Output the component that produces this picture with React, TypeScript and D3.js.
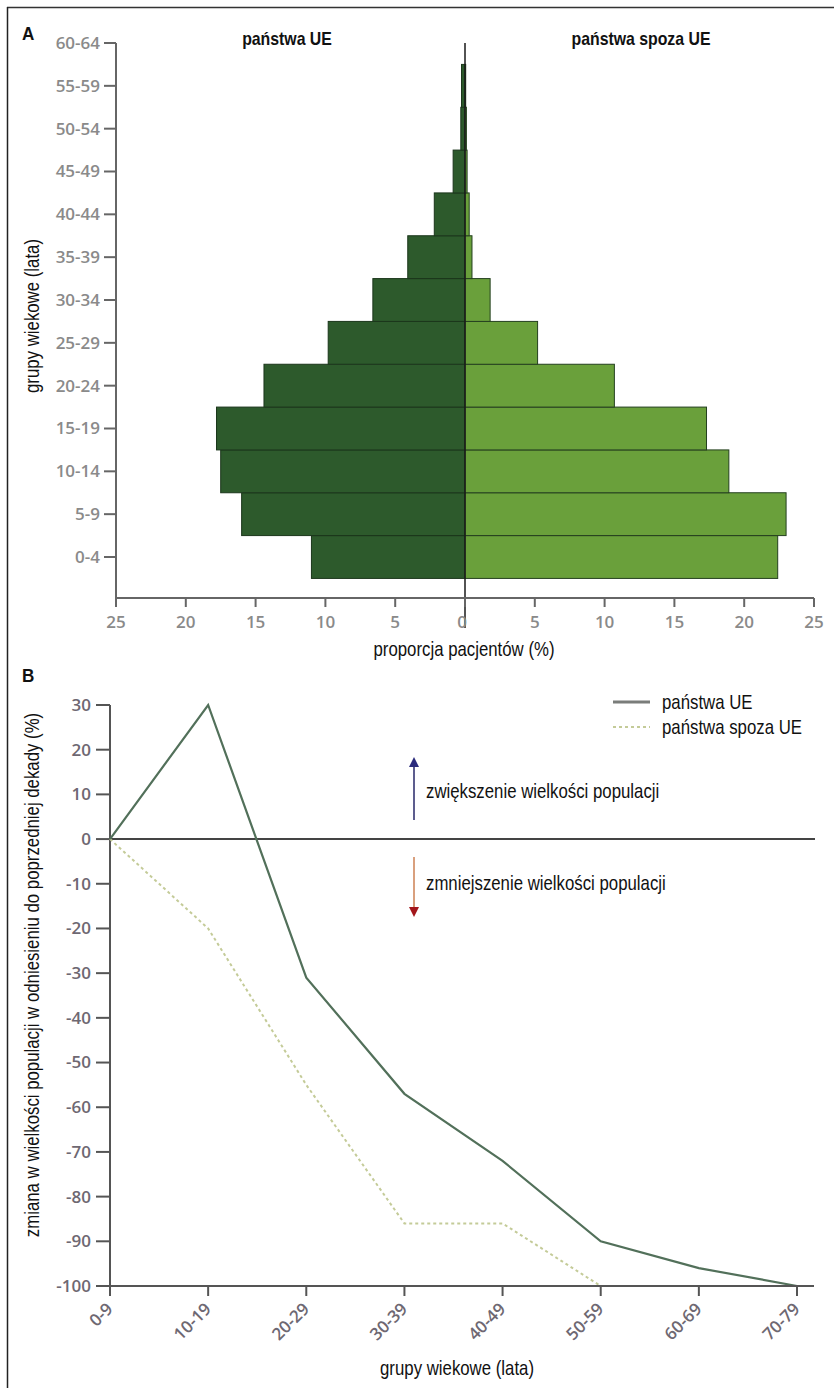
import React from 'react';
import * as d3 from 'd3';

// panel A: share of patients by 5-year age group (%)
const ageGroupsA = ['0-4', '5-9', '10-14', '15-19', '20-24', '25-29', '30-34', '35-39', '40-44', '45-49', '50-54', '55-59', '60-64'];
const euShare = [11.0, 16.0, 17.5, 17.8, 14.4, 9.8, 6.6, 4.1, 2.2, 0.85, 0.3, 0.25, 0];
const nonEuShare = [22.4, 23.0, 18.9, 17.3, 10.7, 5.2, 1.8, 0.5, 0.3, 0.15, 0.1, 0.05, 0];
const shareTicks = [-25, -20, -15, -10, -5, 0, 5, 10, 15, 20, 25];

// panel B: change in population size vs previous decade (%)
const ageGroupsB = ['0-9', '10-19', '20-29', '30-39', '40-49', '50-59', '60-69', '70-79'];
const euChange = [0, 30, -31, -57, -72, -90, -96, -100];
const nonEuChange = [0, -20, -55, -86, -86, -100, -100, -100];
const changeTicks = [30, 20, 10, 0, -10, -20, -30, -40, -50, -60, -70, -80, -90, -100];

const SANS = "'Liberation Sans', Arial, sans-serif";
const TICKFONT = "'Open Sans', 'DejaVu Sans', sans-serif";
const NARROW = 0.84;

const Label = ({ x, y, size = 20, weight = 'normal', anchor = 'start', rotate = 0, sx = NARROW, children }: any) => (
  <text
    transform={`translate(${x},${y}) rotate(${rotate}) scale(${sx},1)`}
    fontFamily={SANS}
    fontSize={size}
    fontWeight={weight}
    textAnchor={anchor}
    fill="#111"
  >
    {children}
  </text>
);

const App = () => {
  // ---- panel A scales
  const xA = d3.scaleLinear().domain([-25, 25]).range([116, 814]);
  const yA = d3.scalePoint<string>().domain(ageGroupsA).range([557, 43]);
  const bandH = yA.step();
  const axisAY = 598;

  // ---- panel B scales
  const xB = d3.scalePoint<string>().domain(ageGroupsB).range([110, 797]);
  const yB = d3.scaleLinear().domain([-100, 30]).range([1286, 705]);

  const line = d3
    .line<number>()
    .x((_, i) => xB(ageGroupsB[i]) as number)
    .y((d) => yB(d));

  return (
    <svg width={834} height={1388} style={{ position: 'absolute', left: 0, top: 0, background: '#fff' }}>
      {/* frame */}
      <line x1={7} x2={834} y1={7.5} y2={7.5} stroke="#333" strokeWidth={1.5} />
      <line x1={7.5} x2={7.5} y1={7} y2={1388} stroke="#222" strokeWidth={1.5} />

      {/* ================= Panel A ================= */}
      <Label x={22} y={40} size={19} weight="bold" sx={0.9}>A</Label>
      <Label x={287} y={45} size={18} weight="bold" anchor="middle" sx={0.88}>państwa UE</Label>
      <Label x={641} y={45} size={18} weight="bold" anchor="middle" sx={0.88}>państwa spoza UE</Label>

      {/* bars */}
      {ageGroupsA.map((g, i) => {
        const cy = yA(g) as number;
        return (
          <g key={g}>
            {euShare[i] > 0 && (
              <rect
                x={xA(-euShare[i])}
                y={cy - bandH / 2}
                width={xA(0) - xA(-euShare[i])}
                height={bandH}
                fill="#2d5a2c"
                stroke="#1b361b"
                strokeWidth={1}
              />
            )}
            {nonEuShare[i] > 0 && (
              <rect
                x={xA(0)}
                y={cy - bandH / 2}
                width={xA(nonEuShare[i]) - xA(0)}
                height={bandH}
                fill="#6aa03b"
                stroke="#24401f"
                strokeWidth={1}
              />
            )}
          </g>
        );
      })}
      <line x1={xA(0)} x2={xA(0)} y1={43} y2={628} stroke="#1a1a1a" strokeWidth={1.5} />

      {/* y axis A */}
      <line x1={116} x2={116} y1={43} y2={axisAY} stroke="#666" strokeWidth={2} />
      {ageGroupsA.map((g) => (
        <g key={g} transform={`translate(0,${yA(g)})`}>
          <line x1={104} x2={116} stroke="#666" strokeWidth={2} />
          <text x={100} dy="0.35em" textAnchor="end" fontFamily={TICKFONT} fontSize={17} fontWeight={600} fill="#8a8a8a">
            {g}
          </text>
        </g>
      ))}

      {/* x axis A */}
      <line x1={116} x2={814} y1={axisAY} y2={axisAY} stroke="#666" strokeWidth={2} />
      {shareTicks.map((t) => (
        <g key={t} transform={`translate(${xA(t)},0)`}>
          <line y1={axisAY} y2={axisAY + 9} stroke="#666" strokeWidth={2} />
          <text y={628} x={t === 0 ? -3 : 0} textAnchor="middle" fontFamily={TICKFONT} fontSize={17} fontWeight={600} fill="#8a8a8a">
            {Math.abs(t)}
          </text>
        </g>
      ))}
      <Label x={464} y={656} anchor="middle">proporcja pacjentów (%)</Label>
      <Label x={39} y={316} anchor="middle" rotate={-90}>grupy wiekowe (lata)</Label>

      {/* ================= Panel B ================= */}
      <Label x={22} y={682} size={19} weight="bold" sx={0.9}>B</Label>

      {/* y axis B */}
      <line x1={110} x2={110} y1={yB(30)} y2={yB(-100)} stroke="#555" strokeWidth={2} />
      {changeTicks.map((t) => (
        <g key={t} transform={`translate(0,${yB(t)})`}>
          <line x1={96} x2={110} stroke="#555" strokeWidth={2} />
          <text x={91} dy="0.35em" textAnchor="end" fontFamily={TICKFONT} fontSize={17} fontWeight={600} fill="#6e6872">
            {t}
          </text>
        </g>
      ))}

      {/* zero line */}
      <line x1={110} x2={815} y1={yB(0)} y2={yB(0)} stroke="#444" strokeWidth={2} />

      {/* series */}
      <path d={line(nonEuChange) as string} fill="none" stroke="#c4cb98" strokeWidth={2} strokeDasharray="3,3" />
      <path d={line(euChange) as string} fill="none" stroke="#52705a" strokeWidth={2.2} />

      {/* x axis B */}
      <line x1={110} x2={814} y1={yB(-100)} y2={yB(-100)} stroke="#555" strokeWidth={2} />
      {ageGroupsB.map((g) => {
        const x = xB(g) as number;
        return (
          <g key={g}>
            <line x1={x} x2={x} y1={yB(-100)} y2={yB(-100) + 10} stroke="#555" strokeWidth={2} />
            <text
              transform={`translate(${x + 4},${1310}) rotate(-45)`}
              textAnchor="end"
              fontFamily={TICKFONT}
              fontSize={17}
              fontWeight={600}
              fill="#6e6872"
            >
              {g}
            </text>
          </g>
        );
      })}

      <Label x={457} y={1375} anchor="middle">grupy wiekowe (lata)</Label>
      <Label x={39} y={975} anchor="middle" rotate={-90}>
        zmiana w wielkości populacji w odniesieniu do poprzedniej dekady (%)
      </Label>

      {/* legend */}
      <line x1={613} x2={650} y1={702} y2={702} stroke="#7a7d7a" strokeWidth={3} />
      <Label x={662} y={709}>państwa UE</Label>
      <line x1={613} x2={650} y1={727} y2={727} stroke="#c4cb98" strokeWidth={2} strokeDasharray="3,3" />
      <Label x={662} y={734}>państwa spoza UE</Label>

      {/* arrows */}
      <line x1={414} x2={414} y1={820} y2={765} stroke="#5d5d8e" strokeWidth={2} />
      <path d="M414,757 L409,767 L419,767 Z" fill="#2b2b7c" />
      <Label x={426} y={798}>zwiększenie wielkości populacji</Label>

      <line x1={414} x2={414} y1={857} y2={909} stroke="#d9a07e" strokeWidth={2} />
      <path d="M414,917 L409,907 L419,907 Z" fill="#a3161b" />
      <Label x={426} y={890}>zmniejszenie wielkości populacji</Label>
    </svg>
  );
};

export default App;
